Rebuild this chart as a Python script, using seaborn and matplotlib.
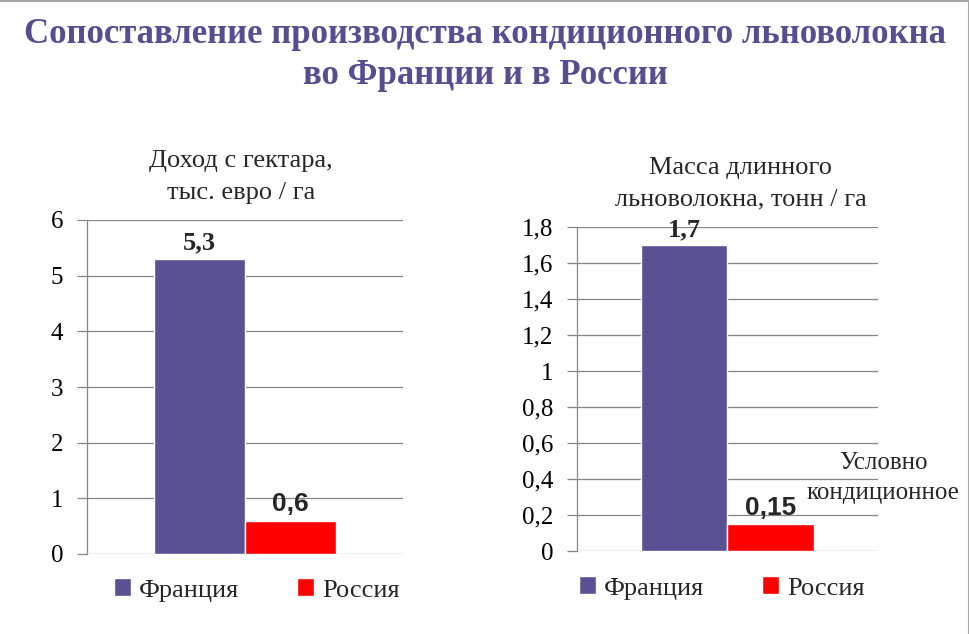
import pandas as pd
import matplotlib
matplotlib.use("Agg")
import matplotlib.pyplot as plt
from matplotlib.ticker import FuncFormatter, MultipleLocator
from matplotlib.lines import Line2D
import seaborn as sns

# DATA
COUNTRIES = ["Франция", "Россия"]
INCOME = [5.3, 0.6]          # тыс. евро / га
FIBER_MASS = [1.7, 0.15]     # тонн / га

TITLE = "Сопоставление производства кондиционного льноволокна\nво Франции и в России"
INCOME_TITLE = "Доход с гектара,\nтыс. евро / га"
FIBER_TITLE = "Масса длинного\nльноволокна, тонн / га"
NOTE = "Условно\nкондиционное"

PURPLE = "#5A5094"
RED = "#FF0000"
GRID = "#868686"


def comma(v, pos=None):
    return f"{round(v, 2):g}".replace(".", ",")


def draw_panel(fig, rect, values, ymax, step, title, title_xy, legend_xy):
    ax = fig.add_axes(rect)
    df = pd.DataFrame({"metric": [""] * len(values), "country": COUNTRIES, "value": values})
    sns.barplot(data=df, x="metric", y="value", hue="country", hue_order=COUNTRIES,
                palette=[PURPLE, RED], saturation=1, width=0.573, ax=ax)
    ax.set_xlim(-0.5, 0.5)
    ax.set_ylim(0, ymax)
    ax.yaxis.set_major_locator(MultipleLocator(step))
    ax.yaxis.set_major_formatter(FuncFormatter(comma))
    ax.set_xlabel("")
    ax.set_ylabel("")
    ax.set_xticks([])
    ax.set_axisbelow(True)
    ax.grid(axis="y", color=GRID, linewidth=0.9)
    ax.grid(axis="x", visible=False)
    for side in ["top", "right", "bottom"]:
        ax.spines[side].set_visible(False)
    ax.spines["left"].set_color(GRID)
    ax.spines["left"].set_linewidth(0.9)
    ax.tick_params(axis="y", length=7, width=0.9, color=GRID, pad=10,
                   labelsize=18, labelcolor="black", left=True)

    # value labels: France in bold serif, Russia in bold sans
    fonts = ["Liberation Serif", "Liberation Sans"]
    for cont, fam in zip(ax.containers, fonts):
        ax.bar_label(cont, labels=[comma(v) for v in cont.datavalues], padding=3,
                     fontsize=19, fontweight="bold", family=fam)

    handles, labels = ax.get_legend_handles_labels()
    ax.legend(handles, labels, loc="center", bbox_to_anchor=legend_xy,
              bbox_transform=fig.transFigure, ncol=2, frameon=False, fontsize=19,
              handlelength=0.65, handleheight=0.65, handletextpad=0.3, columnspacing=2.2)

    fig.text(title_xy[0], title_xy[1], title, ha="center", va="center",
             fontsize=19, linespacing=1.55)
    return ax


sns.set_theme(style="white")
plt.rcParams["font.family"] = ["Liberation Serif", "DejaVu Serif"]

W, H = 970, 634
fig = plt.figure(figsize=(W / 100, H / 100), dpi=100)
fig.patch.set_facecolor("white")

draw_panel(fig, [87 / W, 1 - 554 / H, 316 / W, 334 / H], INCOME, 6, 1,
           INCOME_TITLE, (241 / W, 1 - 177 / H), (257 / W, 1 - 590 / H))
draw_panel(fig, [577 / W, 1 - 551 / H, 301 / W, 324 / H], FIBER_MASS, 1.8, 0.2,
           FIBER_TITLE, (741 / W, 1 - 184 / H), (722 / W, 1 - 588 / H))

fig.text(883 / W, 1 - 478 / H, NOTE, ha="center", va="center", fontsize=18,
         linespacing=1.45)

fig.text(0.5, 1 - 55 / H, TITLE, ha="center", va="center", fontsize=25,
         fontweight="bold", color="#574E92", linespacing=1.35)

# slide frame: only top and right edges are visible in the crop
fig.lines.append(Line2D([0, 1], [0.999, 0.999], transform=fig.transFigure,
                        color="#A6A6A6", linewidth=1.5))
fig.lines.append(Line2D([0.999, 0.999], [0, 1], transform=fig.transFigure,
                        color="#A6A6A6", linewidth=1.5))

fig.savefig("out.png", dpi=100)
